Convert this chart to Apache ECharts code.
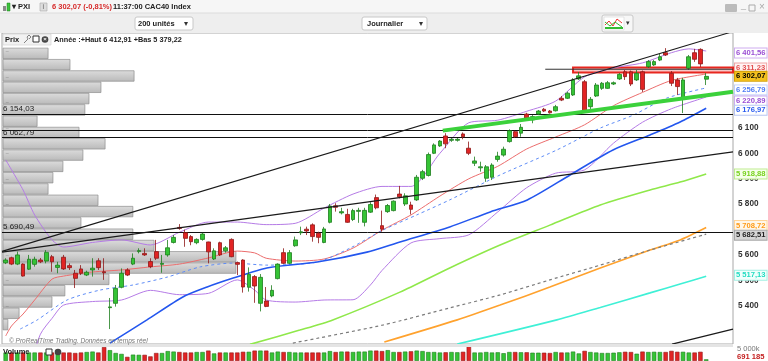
<!DOCTYPE html>
<html><head><meta charset="utf-8">
<script src="https://cdn.jsdelivr.net/npm/echarts@6/dist/echarts.min.js"></script>
<style>html,body{margin:0;padding:0;background:#fff}#c{width:768px;height:361px}</style>
</head><body><div id="c"></div>
<script>
// ---- data: daily candles [open, close, low, high], index = day number ----
const candles = [
[5570,5581,5565,5588],[5590,5565,5561,5594],[5565,5601,5561,5614],[5565,5518,5516,5568],[5545,5584,5542,5601],
[5564,5584,5555,5594],[5581,5574,5569,5589],[5577,5611,5568,5620],[5594,5574,5535,5601],[5552,5561,5529,5574],
[5592,5546,5542,5601],[5559,5551,5542,5568],[5529,5509,5471,5542],[5546,5529,5522,5561],[5522,5533,5518,5539],
[5542,5549,5516,5588],[5578,5551,5542,5588],[5535,5531,5503,5588],[5394,5397,5310,5432],[5411,5470,5398,5483],
[5474,5529,5470,5548],[5542,5522,5518,5549],[5565,5588,5561,5607],[5614,5618,5607,5627],[5607,5601,5597,5627],
[5575,5555,5549,5588],[5614,5588,5581,5660],[5564,5568,5531,5601],[5601,5629,5594,5660],[5650,5670,5646,5679],
[5709,5705,5700,5722],[5688,5666,5633,5700],[5673,5653,5639,5679],[5649,5662,5643,5666],[5662,5683,5657,5688],
[5652,5613,5568,5653],[5585,5617,5581,5627],[5649,5601,5597,5653],[5617,5629,5610,5636],[5662,5594,5592,5666],
[5571,5564,5522,5575],[5581,5475,5453,5584],[5474,5525,5457,5552],[5516,5479,5413,5522],[5411,5513,5379.22,5526],
[5420,5399,5396,5475],[5440,5462,5435,5482],[5508,5565,5505,5568],[5610,5568,5565,5627],[5568,5610,5565,5620],
[5637,5660,5633,5673],[5688,5692,5679,5712],[5702,5695,5679,5712],[5719,5673,5653,5725],[5686,5670,5647,5692],
[5650,5703,5647,5711],[5729,5793,5725,5801],[5794,5788,5771,5804],[5766,5771,5760,5786],[5760,5729,5727,5782],
[5740,5775,5734,5782],[5772,5776,5727,5786],[5729,5776,5713,5786],[5769,5799,5766,5808],[5826,5786,5780,5838],
[5716,5702,5692,5775],[5771,5795,5766,5801],[5775,5812,5772,5815],[5840,5829,5823,5872],[5801,5833,5793,5843],
[5797,5780,5760,5810],[5817,5906,5813,5915],[5902,5928,5895,5935],[5913,5995,5909,6003],[6000,6033,5997,6039],
[6029,6048,6025,6052],[6068,6037,6020,6079],[6051,6055,6045,6060],[6051,6055,6046,6060],[6076,6065,6055,6082],
[6020,6000,5993,6046],[5961,5970,5950,5987],[5943,5947,5928,5967],[5902,5947,5888,5954],[5906,5954,5895,5961],
[5976,5989,5967,6006],[5993,6016,5987,6026],[6046,6089,6042,6094],[6085,6065,6060,6089],[6079,6102,6065,6115],
[6154,6137,6134,6159],[6131,6144,6118,6150],[6154,6166,6150,6170],[6173,6166,6162,6178],[6166,6159,6156,6170],
[6167,6183,6164,6190],[6216,6209,6205,6225],[6216,6236,6213,6242],[6229,6288,6225,6295],[6292,6304,6288,6319],
[6281,6163,6162,6288],[6183,6212,6174,6221],[6225,6268,6221,6276],[6255,6275,6249,6280],[6255,6277,6253,6284],
[6272,6277,6268,6282],[6292,6310,6288,6315],[6320,6301,6288,6327],[6320,6272,6264,6325],[6288,6314,6284,6327],
[6320,6251,6241,6325],[6340,6360,6335,6366],[6347,6360,6343,6366],[6366,6379,6362,6390],[6395,6386,6382,6412.91],
[6314,6275,6264,6323],[6288,6262,6229,6296],[6216,6288,6158,6296],[6334,6379,6327,6386],[6395,6369,6359,6410],
[6408,6351,6339,6412],[6291,6302.07,6268,6315]
];
// daily volume (thousands)
const volumes = [
3500,3500,3500,3500,3500,3500,3500,3500,3500,3296,3500,3500,3296,3500,3705,3880,3500,5746,4463,3296,
2917,1700,2625,2538,2538,1896,3296,3296,4084,3880,3705,3500,3500,3705,3705,4288,3121,3500,3500,3500,
3500,3792,3792,4288,4288,4288,3500,3880,3705,3705,3500,3500,3500,3500,3500,3500,4084,3705,3880,3880,
3705,3880,3880,4288,4288,4084,4463,3705,3705,3880,3996,4288,4084,3705,3705,3500,3588,3705,3588,3792,
6213,3500,3500,3705,3500,3588,3209,3705,3705,3588,3588,3413,3413,3413,3296,3705,3500,3500,3880,3121,
4171,3705,3500,3296,3296,3413,3588,3792,3705,3004,3880,3705,3792,3705,3705,4171,3792,3792,3500,3500,
3792,691.185
];
// indicator lines [day, value]
const bollUpper = [[0,5974],[3,5856],[5,5758],[8,5660],[10,5632],[15,5650],[20,5660],[25,5640],[30,5690],[35,5730],[40,5730],[45,5720],[50,5725],[55,5785],[60,5840],[65,5870],[70,5870],[75,6000],[80,6120],[85,6130],[90,6165],[95,6205],[100,6300],[105,6335],[110,6355],[115,6395],[118,6410],[121,6401.56]];
const bollLower = [[4,5150],[6,5290],[8,5352],[10,5404],[15,5418],[20,5424],[25,5462],[30,5445],[35,5450],[40,5503],[43,5463],[45,5424],[50,5416],[55,5424],[60,5425],[63,5483],[65,5540],[70,5648],[75,5665],[80,5680],[85,5770],[90,5865],[95,5922],[100,5935],[105,6040],[110,6122],[115,6175],[121,6220.89]];
const ma20 = [[0,5283],[1,5322],[3,5369],[5,5424],[8,5506],[10,5518],[15,5534],[20,5542],[25,5554],[30,5565],[35,5589],[40,5616],[43,5609],[45,5588],[50,5577],[55,5585],[60,5628],[65,5698],[70,5758],[75,5832],[80,5900],[85,5949],[90,6017],[95,6064],[100,6112],[105,6187],[110,6239],[115,6286],[121,6311.23]];
const maDashed = [[2.5,5310],[5.4,5345],[10.6,5424],[16.3,5463],[22,5483],[27.9,5514],[33.6,5554],[39.3,5569],[45.1,5561],[53.8,5573],[59.5,5628],[65.2,5699],[71,5758],[76.7,5817],[85.4,5915],[95.2,6013],[102.7,6099],[108.4,6150],[114.2,6217],[121,6256.79]];
const maBlue = [[18,5255],[24.4,5346],[30.6,5436],[34.8,5475],[39.3,5510],[45.1,5550],[53.8,5573],[62.4,5612],[68.1,5652],[76.7,5711],[83.7,5770],[90.1,5817],[97.5,5915],[104.9,6013],[111.3,6072],[116.5,6123],[121,6176.97]];
const maGreen = [[42.2,5250],[50.8,5306],[56.5,5346],[68.1,5455],[76.7,5550],[85.4,5640],[94,5718],[102.7,5797],[111.3,5856],[116.5,5887],[121,5918.88]];
const maOrange = [[65.4,5259],[78,5346],[85.4,5404],[94,5475],[102.7,5550],[111.3,5620],[116.5,5660],[121,5708.72]];
const maGrey = [[49.6,5255],[65.2,5326],[76.7,5393],[85.4,5444],[94,5503],[102.7,5561],[111.3,5620],[121,5682.51]];
const maCyan = [[78,5251],[95.2,5346],[102.7,5395],[111.3,5452],[116.5,5487],[121,5517.13]];
// drawn objects
const trendSteep = [[-0.64,5615],[125.63,6478]];
const trendFlat = [[-0.64,5612],[125.63,6006]];
const trendLow = [[115.1,5251],[125.63,5310]];
const trendGreen = [[75.5,6089],[125.63,6242]];
const resistLine = [[93.2,6330],[125.63,6330]];
const resistZone = [98, 125.63, 6317, 6337];
const hLevels = [{v:6154.03,t:'6 154,03'},{v:6091.5,t:''},{v:6062.79,t:'6 062,79'},{v:5690.49,t:'5 690,49'}];
// volume-at-price profile (top price, step, relative volume per bin)
const profileTop = 6412.91, profileStep = 44.37;
const profileVol = [18.5,27.5,53.8,40.2,35.3,33.6,14,31.2,41.9,32.8,24.6,20.5,18.5,39,53.3,32,53.3,62,95.6,95.6,43.5,25.4,20.1,6.6,2];
const priceTicks = [5400,5500,5600,5700,5800,5900,6000,6100,6200,6300,6400];

const FONT = "'Liberation Sans', Arial, sans-serif";
const fmtInt = v => Math.floor(v/1000) + ' ' + String(Math.round(v%1000)).padStart(3,'0');
const fmtDec = v => { const s = v.toFixed(2).replace('.', ','); const [i,d] = s.split(','); return fmtInt(+i) + ',' + d; };

const UP = '#35c435', UPB = '#1d7d1d', DN = '#e22424', DNB = '#8e1616';
const candleData = candles.map((c,i)=>[i, c[0], c[1], c[2], c[3]]);
const volData = volumes.map((v,i)=>({value:[i,v], itemStyle:{color: candles[i][1]>=candles[i][0]?UP:DN, borderColor: candles[i][1]>=candles[i][0]?UPB:DNB, borderWidth:0.6}}));
const profileData = profileVol.map((v,n)=>[profileTop - profileStep*n, profileTop - profileStep*(n+1), v]);

const XMIN = -0.64, XMAX = 125.63;
const chart = echarts.init(document.getElementById('c'), null, {renderer:'canvas'});

function lineS(data, color, width, type, z){
  return {type:'line', xAxisIndex:0, yAxisIndex:0, data, showSymbol:false, symbol:'none', smooth:0.25, z: z||3,
    lineStyle:{color, width, type: type||'solid'}, silent:true, animation:false};
}
function straight(data, color, width, z){
  return {type:'line', xAxisIndex:0, yAxisIndex:0, data, showSymbol:false, symbol:'none', z: z||6,
    lineStyle:{color, width}, silent:true, animation:false};
}
// value tag on the price scale; dy nudges overlapping tags apart (as the platform does)
function tag(v, color, bg, bd, dy){
  return {yAxis:v, lineStyle:{color:'rgba(0,0,0,0)', width:0},
    label:{show:true, position:'end', distance:2, offset:[0, dy||0], formatter: fmtDec(v), color, backgroundColor:bg, borderColor:bd, borderWidth:1,
    padding:[1,1,0,1], fontSize:7.6, fontWeight:'bold', fontFamily:FONT}};
}
const last = a => a[a.length-1][1];

const option = {
  animation:false,
  backgroundColor:'#ffffff',
  grid:[
    {left:2, top:33, width:731, height:311, show:true, borderColor:'#a8a8a8', borderWidth:1, backgroundColor:'#fff'},
    {left:2, top:344, width:731, height:24, show:false}
  ],
  xAxis:[
    {type:'value', gridIndex:0, min:XMIN, max:XMAX, show:false},
    {type:'value', gridIndex:1, min:XMIN, max:XMAX, show:false},
    {type:'value', gridIndex:0, min:0, max:300, show:false}
  ],
  yAxis:[
    {type:'value', gridIndex:0, min:5251.3, max:6472.3, position:'right', scale:true,
     splitLine:{show:false}, axisLine:{show:false},
     axisTick:{show:true, customValues:priceTicks, length:3, lineStyle:{color:'#555'}},
     axisLabel:{customValues:priceTicks, formatter:v=>fmtInt(v), color:'#333', fontSize:8.2, fontWeight:'bold', fontFamily:FONT, margin:5}},
    {type:'value', gridIndex:1, min:0, max:7000, position:'right', splitLine:{show:false}, axisLine:{show:false},
     axisTick:{show:false},
     axisLabel:{customValues:[5000], formatter:()=> '5 000k', color:'#777', fontSize:7.5, fontFamily:FONT, margin:4}}
  ],
  series:[
    {type:'custom', xAxisIndex:2, yAxisIndex:0, data:profileData, encode:{x:2, y:[0,1]}, z:1, silent:true,
     renderItem:(params, api)=>{
       const p1 = api.coord([0, api.value(0)]), p2 = api.coord([api.value(2), api.value(1)]);
       return {type:'rect', shape:{x:p1[0]+1, y:p1[1], width:p2[0]-p1[0], height:p2[1]-p1[1]-0.8},
         style:{fill:{type:'linear',x:0,y:0,x2:0,y2:1,colorStops:[{offset:0,color:'#d6d6d6'},{offset:1,color:'#adadad'}]}, stroke:'#8c8c8c', lineWidth:0.8, opacity:0.85}};
     }},
    {type:'line', xAxisIndex:0, yAxisIndex:0, data:[], z:4, silent:true,
     markLine:{symbol:'none', silent:true, animation:false,
       data: hLevels.map(h=>({yAxis:h.v, lineStyle:{color:'#111', width:1, type:'solid'},
         label:{show: !!h.t, position:'insideStartTop', formatter:h.t, color:'#222', fontSize:8, fontFamily:FONT, distance:[1,1]}}))},
     markArea:{silent:true, data:[[{coord:[resistZone[0], resistZone[3]]},{coord:[resistZone[1], resistZone[2]]}]],
       itemStyle:{color:'rgba(235,130,130,0.45)', borderColor:'#e8261f', borderWidth:2}}},
    lineS(bollUpper,'#b57be6',1),
    lineS(bollLower,'#b57be6',1),
    lineS(ma20,'#ec6d6d',1),
    lineS(maDashed,'#5f8df7',1,[3,3]),
    lineS(maBlue,'#2356ee',1.6),
    lineS(maGreen,'#8fe84a',1.6),
    lineS(maOrange,'#ffa22e',1.6),
    lineS(maGrey,'#7b7b7b',1.2,[3,3]),
    lineS(maCyan,'#3ff0d6',1.6),
    straight(trendSteep,'#1a1a1a',1.1),
    straight(trendFlat,'#1a1a1a',1.3),
    straight(trendLow,'#1a1a1a',1.3),
    straight(resistLine,'#333',1),
    straight(trendGreen,'#3bd13b',4,7),
    {type:'candlestick', xAxisIndex:0, yAxisIndex:0, data:candleData, encode:{x:0, y:[1,2,3,4]}, barWidth:4.2, z:5,
     itemStyle:{color:UP, color0:DN, borderColor:UPB, borderColor0:DNB, borderWidth:0.8}, silent:true},
    {type:'line', xAxisIndex:0, yAxisIndex:0, data:[], z:9, silent:true,
     markLine:{symbol:'none', silent:true, animation:false,
       data:[
         tag(last(bollUpper),'#9b4fd4','#fff','#cfaef0', 2),
         tag(last(ma20),'#e35050','#fff3f3','#f0a8a8', -6),
         tag(last(maDashed),'#4f7df5','#fff','#c0d0fa', 2),
         tag(last(bollLower),'#9b4fd4','#fff','#cfaef0', 4),
         tag(last(maBlue),'#2a5cf0','#fff','#b8c6f2', 2),
         tag(last(maGreen),'#78d21e','#f5ffea','#bfeb90', 0),
         tag(last(maOrange),'#ff9a16','#fff7ea','#ffd49a', -2),
         tag(last(maGrey),'#222','#d6d6d6','#a8a8a8', 1),
         tag(last(maCyan),'#22dcc2','#f0fffc','#a4efe2', -1),
         tag(candles[candles.length-1][1],'#000','#f4c11e','#d4a10a', 0)
       ]}},
    {type:'bar', xAxisIndex:1, yAxisIndex:1, data:volData, barWidth:4.4, z:2, silent:true}
  ],
  graphic:[
    {type:'rect', z:100, shape:{x:0,y:0,width:768,height:13}, style:{fill:'#f6f6f6'}},
    {type:'rect', z:100, shape:{x:0,y:13,width:768,height:20}, style:{fill:'#eeeeee'}},
    {type:'line', z:100, shape:{x1:0,y1:13,x2:768,y2:13}, style:{stroke:'#dcdcdc'}},
    {type:'rect', z:101, shape:{x:3,y:6,width:3,height:5}, style:{fill:'#888'}},
    {type:'rect', z:101, shape:{x:7,y:3,width:3,height:8}, style:{fill:'#3bc43b', stroke:'#1d7d1d', lineWidth:0.5}},
    {type:'text', z:101, x:12, y:2.5, style:{text:'▾ PXI', font:'bold 7.5px '+FONT, fill:'#222'}},
    {type:'rect', z:101, shape:{x:40,y:3,width:7,height:8}, style:{fill:'#ddd', stroke:'#aaa', lineWidth:0.6}},
    {type:'text', z:102, x:42.5, y:3.5, style:{text:'i', font:'bold 6.5px '+FONT, fill:'#888'}},
    {type:'text', z:101, x:52, y:2.5, style:{text:'6 302,07 (-0,81%)', font:'bold 7.5px '+FONT, fill:'#d62a2a'}},
    {type:'text', z:101, x:113, y:2.5, style:{text:'11:37:00 CAC40 Index', font:'bold 7.5px '+FONT, fill:'#222'}},
    {type:'rect', z:101, shape:{x:725,y:4,width:12,height:8,r:1}, style:{fill:'#bbb'}},
    {type:'text', z:101, x:741, y:1, style:{text:'_', font:'9px '+FONT, fill:'#aaa'}},
    {type:'rect', z:101, shape:{x:749,y:5,width:6,height:6}, style:{fill:'none', stroke:'#aaa', lineWidth:1}},
    {type:'text', z:101, x:759, y:2, style:{text:'×', font:'10px '+FONT, fill:'#aaa'}},
    {type:'rect', z:101, shape:{x:135,y:17,width:58,height:13,r:2}, style:{fill:'#fff', stroke:'#c8c8c8'}},
    {type:'text', z:102, x:138, y:20, style:{text:'200 unités', font:'bold 7.5px '+FONT, fill:'#222'}},
    {type:'text', z:102, x:184, y:19.5, style:{text:'▾', font:'8px '+FONT, fill:'#333'}},
    {type:'rect', z:101, shape:{x:362,y:17,width:65,height:13,r:2}, style:{fill:'#fff', stroke:'#c8c8c8'}},
    {type:'text', z:102, x:367, y:20, style:{text:'Journalier', font:'bold 7.5px '+FONT, fill:'#222'}},
    {type:'text', z:102, x:419, y:19.5, style:{text:'▾', font:'8px '+FONT, fill:'#333'}},
    {type:'rect', z:101, shape:{x:602,y:15,width:31,height:17,r:2}, style:{fill:'#f7f7f7', stroke:'#c8c8c8'}},
    {type:'rect', z:102, shape:{x:604,y:17,width:20,height:13}, style:{fill:'#fff', stroke:'#ccc', lineWidth:0.5}},
    {type:'polyline', z:103, shape:{points:[[605,25],[609,21],[613,26],[617,19],[622,23]]}, style:{stroke:'#e33', lineWidth:1, fill:null}},
    {type:'polyline', z:103, shape:{points:[[605,22],[610,26],[615,22],[622,27]]}, style:{stroke:'#3b3', lineWidth:1, fill:null}},
    {type:'rect', z:103, shape:{x:605,y:27,width:18,height:2}, style:{fill:'#3b3'}},
    {type:'text', z:102, x:626, y:20, style:{text:'▾', font:'7px '+FONT, fill:'#333'}},
    {type:'rect', z:101, shape:{x:3,y:34,width:48,height:11}, style:{fill:'#f2f2f2', stroke:'#cfcfcf', lineWidth:0.6}},
    {type:'text', z:102, x:5, y:36, style:{text:'Prix', font:'bold 7.5px '+FONT, fill:'#222'}},
    {type:'polyline', z:102, shape:{points:[[24,43],[28,39],[27,37],[29,35],[31,37],[29,39]]}, style:{stroke:'#666', lineWidth:0.8, fill:null}},
    {type:'rect', z:102, shape:{x:33,y:36,width:6,height:6}, style:{fill:'#fff', stroke:'#333', lineWidth:1}},
    {type:'circle', z:102, shape:{cx:45,cy:39.5,r:3.3}, style:{fill:'#444'}},
    {type:'text', z:103, x:43.2, y:36.5, style:{text:'×', font:'bold 6px '+FONT, fill:'#fff'}},
    {type:'text', z:102, x:54, y:36, style:{text:'Année :+Haut 6 412,91 +Bas 5 379,22', font:'bold 7.3px '+FONT, fill:'#222'}},
    {type:'text', z:102, x:9, y:338, style:{text:'© ProRealTime Trading. Données en temps réel', font:'italic 6.5px '+FONT, fill:'#777'}},
    {type:'rect', z:101, shape:{x:0,y:344,width:733,height:3}, style:{fill:'#e4e4e4'}},
    {type:'text', z:102, x:3, y:348, style:{text:'Volume', font:'bold 7.5px '+FONT, fill:'#222'}},
    {type:'rect', z:102, shape:{x:46,y:349,width:6,height:6}, style:{fill:'#fff', stroke:'#333', lineWidth:1}},
    {type:'circle', z:102, shape:{cx:58,cy:352,r:3.3}, style:{fill:'#444'}},
    {type:'text', z:102, x:736, y:352.5, style:{text:'691 185', font:'bold 7.6px '+FONT, fill:'#c42020', backgroundColor:'#fff', padding:[0,1,0,1]}}
  ]
};
chart.setOption(option);
</script>
</body></html>
